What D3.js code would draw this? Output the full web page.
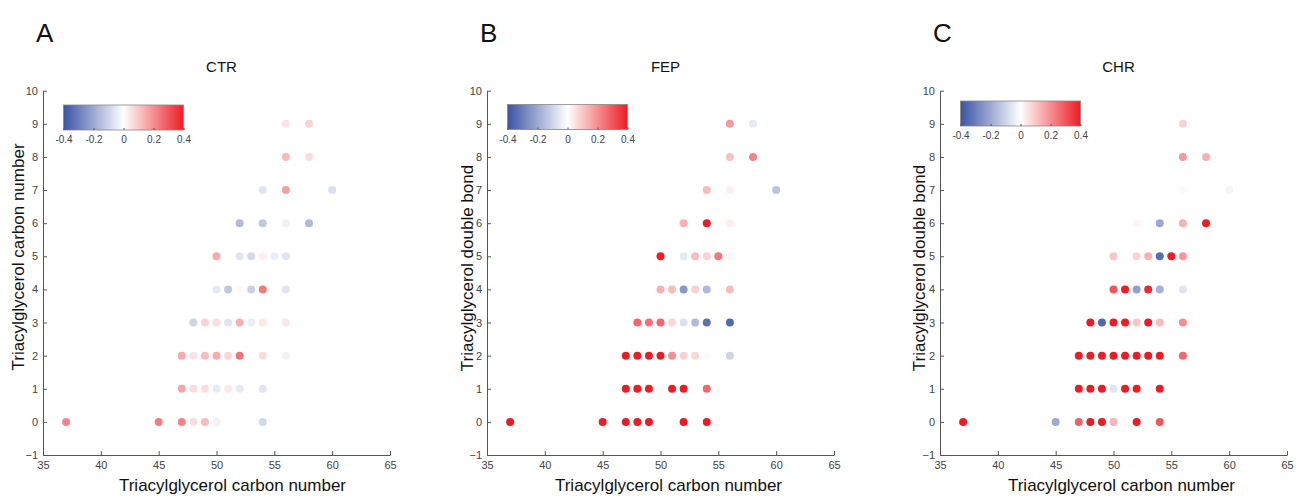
<!DOCTYPE html>
<html>
<head>
<meta charset="utf-8">
<script src="https://cdn.jsdelivr.net/npm/d3@7"></script>
<style>
  body { margin: 0; background: #fff; }
  svg { font-family: 'Liberation Sans', Arial, sans-serif; }
  .tick text { fill: #444; font-size: 11px; }
  .tick line, .domain { stroke: #555; }
</style>
</head>
<body>
<script>
// ==================== Data ============================
// [carbon number, double bonds, value]
const ctrPoints = [
  [56,9,0.05],[58,9,0.08],
  [56,8,0.12],[58,8,0.06],
  [54,7,-0.06],[56,7,0.17],[60,7,-0.07],
  [52,6,-0.16],[54,6,-0.13],[56,6,-0.03],[58,6,-0.16],
  [50,5,0.15],[52,5,-0.06],[53,5,-0.09],[54,5,0.03],[55,5,-0.04],[56,5,-0.06],
  [50,4,-0.05],[51,4,-0.13],[52,4,0.01],[53,4,-0.11],[54,4,0.24],[56,4,-0.06],
  [48,3,-0.1],[49,3,0.08],[50,3,0.06],[51,3,-0.06],[52,3,0.14],[53,3,-0.04],[54,3,0.04],[56,3,0.04],
  [47,2,0.15],[48,2,0.05],[49,2,0.12],[50,2,0.15],[51,2,0.07],[52,2,0.25],[54,2,0.06],[56,2,-0.03],
  [47,1,0.16],[48,1,0.06],[49,1,0.06],[50,1,-0.05],[51,1,0.04],[52,1,-0.05],[54,1,-0.06],
  [37,0,0.22],[45,0,0.23],[47,0,0.22],[48,0,0.06],[49,0,0.12],[50,0,-0.03],[54,0,-0.09]
];

const fepPoints = [
  [56,9,0.18],[58,9,-0.05],
  [56,8,0.11],[58,8,0.22],
  [54,7,0.12],[56,7,0.03],[60,7,-0.14],
  [52,6,0.14],[54,6,0.4],[56,6,0.03],
  [50,5,0.4],[52,5,-0.05],[53,5,0.12],[54,5,0.08],[55,5,0.24],[56,5,-0.02],
  [50,4,0.14],[51,4,0.12],[52,4,-0.24],[53,4,0.08],[54,4,-0.16],[56,4,0.12],
  [48,3,0.27],[49,3,0.25],[50,3,0.27],[51,3,0.07],[52,3,-0.07],[53,3,-0.16],[54,3,-0.33],[56,3,-0.35],
  [47,2,0.4],[48,2,0.4],[49,2,0.4],[50,2,0.4],[51,2,0.2],[52,2,0.08],[53,2,0.07],[54,2,0.01],[56,2,-0.1],
  [47,1,0.4],[48,1,0.4],[49,1,0.4],[50,1,0.01],[51,1,0.4],[52,1,0.4],[54,1,0.27],
  [37,0,0.4],[45,0,0.4],[47,0,0.4],[48,0,0.4],[49,0,0.4],[52,0,0.4],[54,0,0.4]
];

const chrPoints = [
  [56,9,0.08],
  [56,8,0.18],[58,8,0.14],
  [56,7,0.01],[60,7,-0.02],
  [52,6,0.02],[54,6,-0.2],[56,6,0.14],[58,6,0.4],
  [50,5,0.1],[52,5,0.08],[53,5,0.14],[54,5,-0.34],[55,5,0.4],[56,5,0.18],
  [50,4,0.3],[51,4,0.4],[52,4,-0.22],[53,4,0.38],[54,4,-0.18],[56,4,-0.06],
  [48,3,0.4],[49,3,-0.35],[50,3,0.4],[51,3,0.4],[52,3,0.1],[53,3,0.4],[54,3,0.12],[56,3,0.2],
  [47,2,0.4],[48,2,0.4],[49,2,0.4],[50,2,0.4],[51,2,0.4],[52,2,0.4],[53,2,0.4],[54,2,0.4],[56,2,0.27],
  [47,1,0.4],[48,1,0.4],[49,1,0.4],[50,1,-0.06],[51,1,0.4],[52,1,0.4],[54,1,0.4],
  [37,0,0.4],[45,0,-0.2],[47,0,0.28],[48,0,0.4],[49,0,0.4],[50,0,0.13],[52,0,0.4],[54,0,0.3]
];

const panelLetters = ['A', 'B', 'C'];
const panelTitles = ['CTR', 'FEP', 'CHR'];
const yLabels = ['Triacylglycerol carbon number', 'Triacylglycerol double bond', 'Triacylglycerol double bond'];
const xLabel = 'Triacylglycerol carbon number';
const xTicks = [35, 40, 45, 50, 55, 60, 65];
const yTicks = [-1, 0, 1, 2, 3, 4, 5, 6, 7, 8, 9, 10];
const cbarTicks = [-0.4, -0.2, 0, 0.2, 0.4];

// ==================== Set up ============================
const W = 1298, H = 496;
const plotW = 347, plotTop = 90.7, plotBottom = 455;
const panelLeft = [43, 487, 940];
const cbarTop = [105, 104.5, 101];
const xLabelShift = [16, 8, 8];
const yLabelGap = [19, 14, 15];
const yLabelMid = [257, 268, 268];

const color = d3.scaleLinear()
    .domain([-0.4, 0, 0.4])
    .range(['#3a53a4', '#ffffff', '#ed1c24'])
    .clamp(true);

const svg = d3.select('body').append('svg')
    .attr('width', W)
    .attr('height', H);

const defs = svg.append('defs');
const grad = defs.append('linearGradient').attr('id', 'cbar');
d3.range(0, 1.0001, 0.05).forEach(t => {
  grad.append('stop')
      .attr('offset', `${t * 100}%`)
      .attr('stop-color', color(-0.4 + 0.8 * t));
});

const allPoints = [ctrPoints, fepPoints, chrPoints];
const fontFix = a => a.attr('font-family', "'Liberation Sans', Arial, sans-serif");

allPoints.forEach((points, i) => {
  const left = panelLeft[i];
  const x = d3.scaleLinear().domain([35, 65]).range([left, left + plotW]);
  const y = d3.scaleLinear().domain([-1, 10]).range([plotBottom, plotTop]);
  const g = svg.append('g');

  // Panel letter
  g.append('text')
      .attr('x', left - 7)
      .attr('y', 42)
      .style('font-size', '26px')
      .style('fill', '#111')
      .text(panelLetters[i]);

  // Title
  g.append('text')
      .attr('x', (x(35) + x(65)) / 2 + 5)
      .attr('y', 72)
      .attr('text-anchor', 'middle')
      .style('font-size', '15px')
      .style('fill', '#111')
      .text(panelTitles[i]);

  // Axes (ticks inward)
  g.append('g')
      .attr('transform', `translate(0, ${plotBottom})`)
      .call(d3.axisBottom(x).tickValues(xTicks).tickSizeInner(-4).tickSizeOuter(0).tickPadding(8))
      .call(fontFix)
      .call(a => a.selectAll('.tick text').attr('dy', '0.55em'));

  g.append('g')
      .attr('transform', `translate(${left}, 0)`)
      .call(d3.axisLeft(y).tickValues(yTicks).tickSizeInner(-4).tickSizeOuter(0).tickPadding(5))
      .call(fontFix);

  // Axis labels
  g.append('text')
      .attr('x', (x(35) + x(65)) / 2 + xLabelShift[i])
      .attr('y', 491)
      .attr('text-anchor', 'middle')
      .style('font-size', '17px')
      .style('fill', '#111')
      .text(xLabel);

  g.append('text')
      .attr('transform', `translate(${left - yLabelGap[i]}, ${yLabelMid[i]}) rotate(-90)`)
      .attr('text-anchor', 'middle')
      .style('font-size', '17px')
      .style('fill', '#111')
      .text(yLabels[i]);

  // Dots
  g.selectAll('circle')
      .data(points)
      .enter()
    .append('circle')
      .attr('cx', d => x(d[0]))
      .attr('cy', d => y(d[1]))
      .attr('r', 4)
      .style('fill', d => color(d[2]));

  // Colour bar
  const cb = d3.scaleLinear().domain([-0.4, 0.4]).range([left + 20.5, left + 140.5]);
  const ct = cbarTop[i], ch = 25;
  g.append('rect')
      .attr('x', cb(-0.4))
      .attr('y', ct)
      .attr('width', cb(0.4) - cb(-0.4))
      .attr('height', ch)
      .style('fill', 'url(#cbar)')
      .style('stroke', '#888')
      .style('stroke-width', 0.8);

  g.append('g')
      .attr('transform', `translate(0, ${ct + ch})`)
      .call(d3.axisBottom(cb).tickValues(cbarTicks).tickSizeInner(-2).tickSizeOuter(0).tickPadding(6)
        .tickFormat(d => d === 0 ? '0' : d.toFixed(1)))
      .call(fontFix)
      .call(a => a.select('.domain').remove())
      .call(a => a.selectAll('.tick text').style('font-size', '10px'));
});
</script>
</body>
</html>
